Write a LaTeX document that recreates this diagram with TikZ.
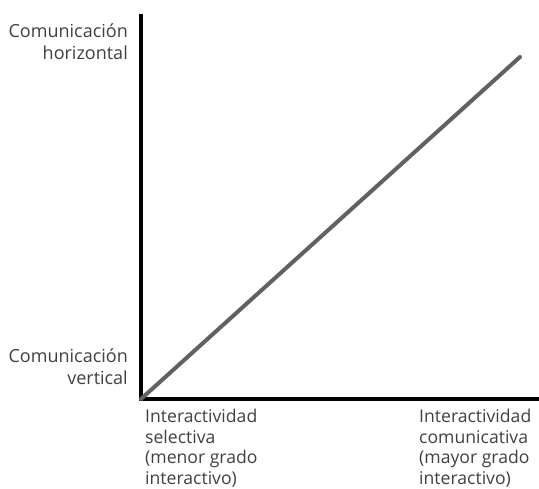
\documentclass[tikz,border=0pt]{standalone}
\usepackage{fontspec}
\setmainfont{Open Sans}
\begin{document}
\begin{tikzpicture}[x=1pt,y=-1pt,
  lbl/.style={text=black!75, font=\fontsize{18}{21.2}\selectfont, inner sep=0pt},
  lblb/.style={lbl, font=\fontsize{17.6}{20.6}\selectfont},
  axis/.style={line width=3.2pt, black},
  diag/.style={line width=4pt, black!62, line cap=round}]
\useasboundingbox (0,0) rectangle (539,489);
\coordinate (o) at (141,399);
\coordinate (ytop) at (141,14);
\coordinate (xend) at (539,399);
\coordinate (dend) at (520,57);
\draw[axis] (ytop) -- (o.center) -- (xend);
\draw[diag] (o) -- (dend);
\node[lbl, align=right, anchor=north east] (lh) at (128,24) {Comunicación\\horizontal};
\node[lbl, align=right, anchor=north east] (lv) at (128,349) {Comunicación\\vertical};
\node[lblb, align=left, anchor=north west] (ls) at (145,409) {Interactividad\\selectiva\\(menor grado\\interactivo)};
\node[lblb, align=left, anchor=north west] (lc) at (419,409) {Interactividad\\comunicativa\\(mayor grado\\interactivo)};
\end{tikzpicture}
\end{document}
